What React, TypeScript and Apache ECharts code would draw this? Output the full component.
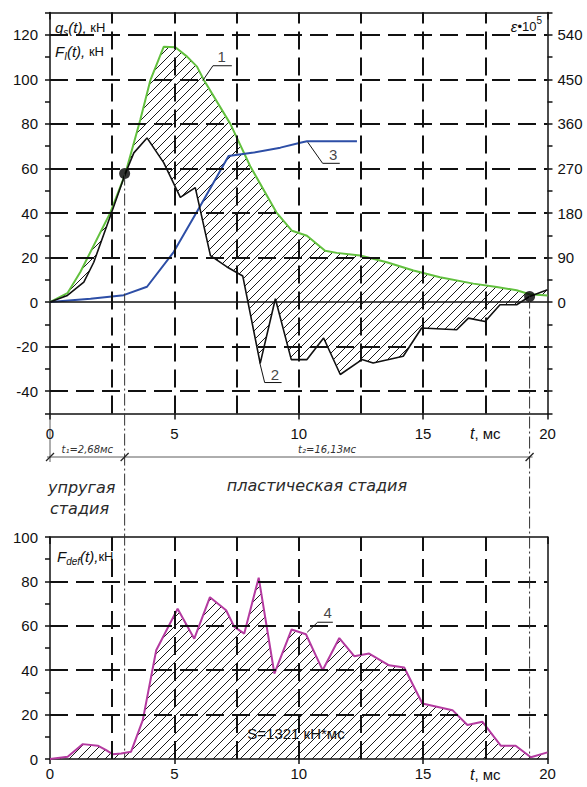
import React, { useEffect, useRef } from 'react';
import * as echarts from 'echarts';

// ---- data (t in ms) ----
// curve 1: q_s(t), kN
const qsT = [0, 0.7, 1.22, 2.43, 3.03, 3.63, 4.04, 4.57, 5.04, 5.51, 5.91, 6.18, 7.25, 8.05, 9.1, 9.73, 10.33, 11.06, 11.53, 12.47, 13.54, 14.61, 15.68, 17.02, 17.96, 18.76, 19.28, 20];
const qsV = [0, 4, 13.5, 40.3, 57.7, 81.9, 99.8, 114.6, 114.4, 110.2, 105.7, 99.8, 80, 61, 40.3, 32, 29.8, 23.1, 22.1, 20.9, 17.9, 14.2, 11.2, 8.3, 6.8, 5.3, 3.5, 3];
// curve 2: F_I(t), kN
const fiT = [0, 0.7, 1.36, 1.76, 2.43, 3.03, 3.37, 3.9, 4.57, 5.24, 5.84, 6.45, 7.1, 7.75, 8.45, 9.06, 9.7, 10.33, 11.0, 11.67, 12.54, 12.99, 14.2, 14.94, 16.35, 16.82, 17.49, 18.09, 18.76, 19.28, 20];
const fiV = [0, 3, 9, 17.9, 38.8, 57.7, 67, 73.7, 62.6, 47, 51.4, 20.9, 15.9, 11.7, -27.5, 1.5, -25.8, -25.8, -16.1, -32.5, -25.8, -27.3, -24.3, -11.6, -12.4, -7.2, -8.7, -1.2, -1.2, 2.5, 5.5];
// curve 3: strain eps*10^5 (right axis)
const epsT = [0, 1.63, 2.96, 3.9, 4.97, 6.04, 7.18, 8.19, 9.26, 10.06, 10.33, 12.34];
const epsV = [0, 7, 14, 31, 101, 194, 295, 302, 312, 322, 325, 325];
// curve 4: F_def(t), kN
const defT = [0, 0.71, 1.32, 1.92, 2.26, 2.52, 2.86, 3.26, 3.73, 4.27, 5.13, 5.8, 6.43, 7.08, 7.41, 7.81, 8.39, 9.02, 9.71, 10.29, 10.96, 11.63, 12.23, 12.83, 13.63, 14.24, 14.97, 16.18, 16.78, 17.38, 18.12, 18.72, 19.33, 20];
const defV = [0, 1, 6.7, 6, 4, 2.1, 2.5, 3.3, 17.5, 49, 67.7, 54.2, 72.9, 67, 59.5, 56.5, 81.7, 38.5, 58.3, 56.2, 40, 54.5, 46.3, 47.5, 42.2, 41.2, 25, 22, 15.3, 16.8, 6, 6, 0.8, 3];
// stage boundary points (t1 end, t2 end)
const dotT = [3.0, 19.28];
const dotV = [57.7, 2.5];
// grid lines
const gridXT = [2.5, 5, 7.5, 10, 12.5, 15, 17.5];
const gridTopY = [-40, -20, 20, 40, 60, 80, 100, 120];
const gridBotY = [20, 40, 60, 80];
// leader lines for curve numbers
const lead1 = [[6.14, 99.4], [6.55, 106.1], [7.31, 106.1]];
const lead2 = [[8.43, -27.1], [8.63, -36.1], [9.31, -36.1]];
const lead3 = [[10.36, 71.8], [10.96, 62.3], [11.65, 62.3]];
const lead4 = [[10.34, 57.1], [10.76, 61.6], [11.37, 61.6]];
const numTop = [{ name: '1', value: [6.9, 110.2] }, { name: '2', value: [9.04, -32.3] }, { name: '3', value: [11.38, 66.3] }];
const numBot = [{ name: '4', value: [11.16, 66.2] }];

const FONT = 'Liberation Sans';
const INK = '#111';

const hatchSvg = '<svg xmlns="http://www.w3.org/2000/svg" width="9" height="9"><path d="M-1 10L10 -1M-1 1L1 -1M8 10L10 8" stroke="#1a1a1a" stroke-width="1" fill="none"/></svg>';
const hatch: any = { image: 'data:image/svg+xml;charset=utf-8,' + encodeURIComponent(hatchSvg), repeat: 'repeat', imageWidth: 9, imageHeight: 9 };

const pairs = (t: number[], v: number[]) => t.map((x, i) => [x, v[i]]);

const gridLineStyle = { type: [18, 8], width: 2, color: INK };

function markLines(xs: number[], ys: number[], extra: any[] = []) {
  return {
    silent: true,
    symbol: ['none', 'none'],
    label: { show: false },
    lineStyle: gridLineStyle,
    data: [...xs.map((t) => ({ xAxis: t })), ...ys.map((v) => ({ yAxis: v })), ...extra],
  };
}

const xLabel = {
  fontSize: 15,
  fontFamily: FONT,
  color: INK,
  formatter: (v: number) => (v === 17.5 ? '{t|t}{m|, мс}' : v % 5 === 0 ? String(v) : ''),
  rich: {
    t: { fontSize: 16, fontStyle: 'italic', fontFamily: FONT, color: INK },
    m: { fontSize: 15, fontFamily: FONT, color: INK },
  },
};
const frame = { show: true, onZero: false, lineStyle: { color: INK, width: 1.5 } };

export default function App() {
  const ref = useRef<HTMLDivElement>(null);
  useEffect(() => {
    if (!ref.current) return;
    const chart = echarts.init(ref.current, undefined, { renderer: 'svg' });
    const option: any = {
      animation: false,
      grid: [
        { left: 50, top: 12.5, width: 497.5, height: 401 },
        { left: 50, top: 537, width: 497.5, height: 222 },
      ],
      xAxis: [
        { gridIndex: 0, type: 'value', min: 0, max: 20, interval: 2.5, position: 'bottom', axisLine: frame,
          axisTick: { show: true, length: 6, customValues: [0, 5, 10, 15, 20], lineStyle: { color: INK, width: 1.5 } },
          axisLabel: { ...xLabel, margin: 12 }, splitLine: { show: false } },
        { gridIndex: 0, type: 'value', min: 0, max: 20, interval: 2.5, position: 'top', axisLine: frame,
          axisTick: { show: true, inside: true, length: 7, lineStyle: { color: INK, width: 1.5 } },
          axisLabel: { show: false }, splitLine: { show: false } },
        { gridIndex: 1, type: 'value', min: 0, max: 20, interval: 2.5, position: 'bottom', axisLine: frame,
          axisTick: { show: true, length: 5, customValues: [0, 5, 10, 15, 20], lineStyle: { color: INK, width: 1.5 } },
          axisLabel: { ...xLabel, margin: 7 }, splitLine: { show: false } },
        { gridIndex: 1, type: 'value', min: 0, max: 20, interval: 2.5, position: 'top', axisLine: frame,
          axisTick: { show: true, inside: true, length: 7, lineStyle: { color: INK, width: 1.5 } },
          axisLabel: { show: false }, splitLine: { show: false } },
      ],
      yAxis: [
        { gridIndex: 0, type: 'value', min: -50, max: 130, interval: 10, position: 'left', axisLine: frame,
          axisTick: { show: true, length: 5, lineStyle: { color: INK, width: 1.5 } },
          axisLabel: { fontSize: 15, fontFamily: FONT, color: INK, margin: 12,
            formatter: (v: number) => (v % 20 === 0 && v >= -40 && v <= 120 ? String(v) : '') },
          splitLine: { show: false } },
        { gridIndex: 0, type: 'value', min: -225, max: 585, interval: 45, position: 'right', axisLine: frame,
          axisTick: { show: true, length: 5, lineStyle: { color: INK, width: 1.5 } },
          axisLabel: { fontSize: 15, fontFamily: FONT, color: INK, margin: 10,
            formatter: (v: number) => (v >= 0 && v <= 540 && v % 90 === 0 ? String(v) : '') },
          splitLine: { show: false } },
        { gridIndex: 1, type: 'value', min: 0, max: 100, interval: 10, position: 'left', axisLine: frame,
          axisTick: { show: true, length: 5, lineStyle: { color: INK, width: 1.5 } },
          axisLabel: { fontSize: 15, fontFamily: FONT, color: INK, margin: 12,
            formatter: (v: number) => (v % 20 === 0 ? String(v) : '') },
          splitLine: { show: false } },
        { gridIndex: 1, type: 'value', min: 0, max: 100, interval: 10, position: 'right', axisLine: frame,
          axisTick: { show: false }, axisLabel: { show: false }, splitLine: { show: false } },
      ],
      series: [
        // grid lines top
        { type: 'line', xAxisIndex: 0, yAxisIndex: 0, data: [[0, 0]], symbol: 'none', lineStyle: { opacity: 0 }, z: 1,
          markLine: markLines(gridXT, gridTopY, [{ yAxis: 0, lineStyle: { type: 'solid', width: 1.5, color: INK } }]) },
        // hatched region between curves 1 and 2
        { type: 'custom', xAxisIndex: 0, yAxisIndex: 0, data: [[0, 0]], silent: true, z: 2,
          renderItem: (_p: any, api: any) => {
            const a = qsT.map((t, i) => api.coord([t, qsV[i]]));
            const b = fiT.map((t, i) => api.coord([t, fiV[i]])).reverse();
            return { type: 'polygon', shape: { points: a.concat(b) }, style: { fill: hatch, stroke: 'none' } };
          } },
        { type: 'line', name: '1', xAxisIndex: 0, yAxisIndex: 0, data: pairs(qsT, qsV), symbol: 'none', z: 4,
          lineStyle: { color: '#62c03e', width: 2 } },
        { type: 'line', name: '2', xAxisIndex: 0, yAxisIndex: 0, data: pairs(fiT, fiV), symbol: 'none', z: 5,
          lineStyle: { color: INK, width: 1.6 } },
        { type: 'line', name: '3', xAxisIndex: 0, yAxisIndex: 1, data: pairs(epsT, epsV), symbol: 'none', z: 4,
          lineStyle: { color: '#2d4ea6', width: 2 } },
        { type: 'scatter', xAxisIndex: 0, yAxisIndex: 0, data: pairs(dotT, dotV), symbolSize: 11, z: 8,
          itemStyle: { color: '#000' } },
        ...[lead1, lead2, lead3].map((d) => ({ type: 'line', xAxisIndex: 0, yAxisIndex: 0, data: d, symbol: 'none', z: 6,
          lineStyle: { color: INK, width: 1 } })),
        { type: 'scatter', xAxisIndex: 0, yAxisIndex: 0, data: numTop, symbolSize: 1, z: 7,
          itemStyle: { color: 'transparent' },
          label: { show: true, position: 'inside', formatter: '{b}', fontSize: 15, fontFamily: FONT, color: INK } },
        // bottom chart
        { type: 'line', xAxisIndex: 2, yAxisIndex: 2, data: [[0, 0]], symbol: 'none', lineStyle: { opacity: 0 }, z: 1,
          markLine: markLines(gridXT, gridBotY) },
        { type: 'line', name: '4', xAxisIndex: 2, yAxisIndex: 2, data: pairs(defT, defV), symbol: 'none', z: 4,
          lineStyle: { color: '#b43aa0', width: 2 }, areaStyle: { color: hatch, opacity: 1 } },
        { type: 'line', xAxisIndex: 2, yAxisIndex: 2, data: lead4, symbol: 'none', z: 6, lineStyle: { color: INK, width: 1 } },
        { type: 'scatter', xAxisIndex: 2, yAxisIndex: 2, data: numBot, symbolSize: 1, z: 7,
          itemStyle: { color: 'transparent' },
          label: { show: true, position: 'inside', formatter: '{b}', fontSize: 15, fontFamily: FONT, color: INK } },
      ],
    };
    chart.setOption(option);

    const px = (g: number, t: number, v: number) =>
      chart.convertToPixel({ xAxisIndex: g * 2, yAxisIndex: g * 2 } as any, [t, v]) as number[];
    const dash = { stroke: '#333', lineWidth: 1, lineDash: [12, 3, 2, 3] };
    const els: any[] = [];
    dotT.forEach((t, i) => {
      const a = px(0, t, dotV[i]);
      const b = px(1, t, 0);
      els.push({ type: 'line', z: 50, shape: { x1: a[0], y1: a[1], x2: a[0], y2: b[1] }, style: dash });
    });
    const x0 = px(0, 0, 0)[0];
    const x1 = px(0, dotT[0], 0)[0];
    const x2 = px(0, dotT[1], 0)[0];
    const yb = px(0, 0, -50)[1];
    const yd = 457;
    const thin = { stroke: '#333', lineWidth: 0.8 };
    els.push({ type: 'line', z: 50, shape: { x1: x0, y1: yb, x2: x0, y2: yd + 5 }, style: thin });
    els.push({ type: 'line', z: 50, shape: { x1: x0 - 3, y1: yd, x2: x2 + 3, y2: yd }, style: thin });
    [x0, x1, x2].forEach((x) =>
      els.push({ type: 'line', z: 50, shape: { x1: x - 4, y1: yd + 4, x2: x + 4, y2: yd - 4 }, style: { stroke: '#222', lineWidth: 1.3 } })
    );
    const smallTxt = { fontSize: 10, fontStyle: 'italic', fontFamily: 'DejaVu Sans', fill: '#333', align: 'center', verticalAlign: 'middle' };
    els.push({ type: 'text', z: 50, style: { ...smallTxt, text: 't₁=2,68мс', x: (x0 + x1) / 2, y: 449 } });
    els.push({ type: 'text', z: 50, style: { ...smallTxt, text: 't₂=16,13мс', x: (x1 + x2) / 2, y: 449 } });
    const stageTxt = { fontSize: 16, fontStyle: 'italic', fontFamily: 'DejaVu Sans', fill: '#2a2a2a', verticalAlign: 'middle' };
    els.push({ type: 'text', z: 50, style: { ...stageTxt, text: 'упругая', x: 48, y: 487, align: 'left' } });
    els.push({ type: 'text', z: 50, style: { ...stageTxt, text: 'стадия', x: 50, y: 508, align: 'left' } });
    els.push({ type: 'text', z: 50, style: { ...stageTxt, text: 'пластическая стадия', x: 317, y: 485, align: 'center' } });

    const rich = {
      i: { fontSize: 15, fontStyle: 'italic', fontFamily: FONT, fill: INK, lineHeight: 16 },
      s: { fontSize: 10, fontStyle: 'italic', fontFamily: FONT, fill: INK, lineHeight: 10, padding: [11, 0, 0, 0] },
      n: { fontSize: 13, fontFamily: FONT, fill: INK, lineHeight: 16 },
      p: { fontSize: 10, fontFamily: FONT, fill: INK, lineHeight: 10, padding: [0, 0, 11, 0] },
    };
    els.push({ type: 'text', z: 50, style: { text: '{i|q}{s|s}{i|(t),}{n| кН}', rich, x: 55, y: 27, verticalAlign: 'middle' } });
    els.push({ type: 'text', z: 50, style: { text: '{i|F}{s|I}{i|(t),}{n| кН}', rich, x: 55, y: 51, verticalAlign: 'middle' } });
    els.push({ type: 'text', z: 50, style: { text: '{i|ε}{n|•10}{p|5}', rich, x: 542, y: 26, align: 'right', verticalAlign: 'middle' } });
    els.push({ type: 'text', z: 50, style: { text: '{i|F}{s|def}{i|(t),}{n|кН}', rich, x: 57, y: 556, verticalAlign: 'middle' } });
    els.push({ type: 'text', z: 50, style: { text: 'S=1321 кН*мс', x: 296, y: 733, align: 'center', verticalAlign: 'middle',
      fontSize: 15, fontFamily: FONT, fill: INK } });

    chart.setOption({ graphic: { elements: els } });
    return () => chart.dispose();
  }, []);
  return <div ref={ref} style={{ position: 'absolute', left: 0, top: 0, width: 587, height: 787, background: '#fff' }} />;
}
